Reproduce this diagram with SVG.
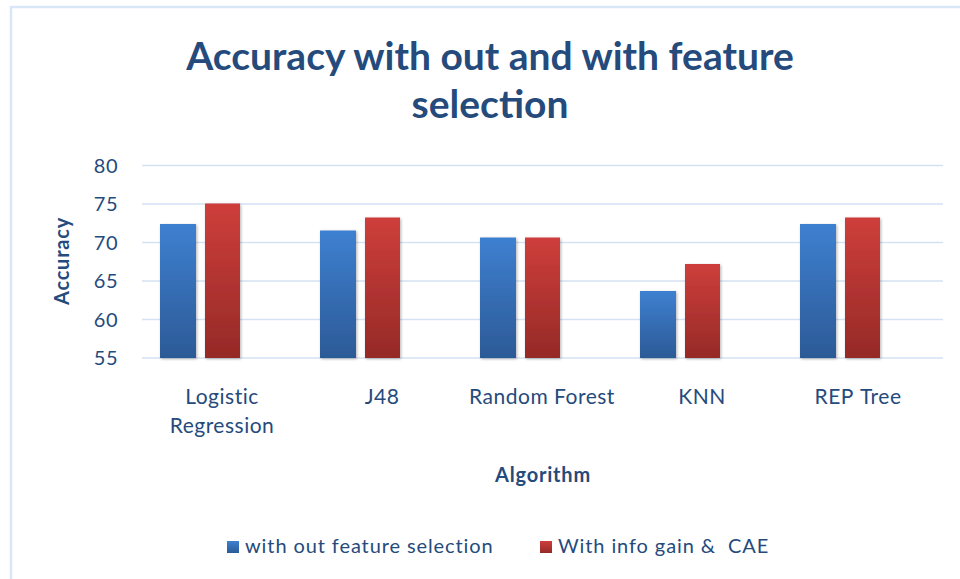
<svg xmlns="http://www.w3.org/2000/svg" width="960" height="579" viewBox="0 0 960 579">
<defs>
<linearGradient id="gb" x1="0" y1="0" x2="0" y2="1"><stop offset="0" stop-color="#3e80d0"/><stop offset="1" stop-color="#2c5a97"/></linearGradient>
<linearGradient id="gr" x1="0" y1="0" x2="0" y2="1"><stop offset="0" stop-color="#ce3e3b"/><stop offset="1" stop-color="#952a27"/></linearGradient>
<filter id="sh" x="-20%" y="-5%" width="140%" height="110%"><feGaussianBlur in="SourceAlpha" stdDeviation="1.5"/><feOffset dx="1" dy="1"/><feComponentTransfer><feFuncA type="linear" slope="0.3"/></feComponentTransfer><feMerge><feMergeNode/><feMergeNode in="SourceGraphic"/></feMerge></filter>
<style>
text{font-family:Lato,"Open Sans","Liberation Sans",sans-serif;fill:#254a7c}
.t{font-size:39px;font-weight:bold;text-anchor:middle}
.y{font-size:20px;text-anchor:end;letter-spacing:0.5px}
.c{font-size:21px;text-anchor:middle;letter-spacing:0.5px}
.ax{font-size:20px;font-weight:bold;text-anchor:middle;letter-spacing:0.8px}
.lg{font-size:20px;letter-spacing:0.9px}
.g{stroke:#d5e2f3;stroke-width:1.5}
.b{fill:url(#gb);filter:url(#sh)}
.r{fill:url(#gr);filter:url(#sh)}
</style>
</defs>
<rect width="960" height="579" fill="#fff"/>
<path d="M11 579V7H960" fill="none" stroke="#d9e6f6" stroke-width="2.5"/>
<g id="title"><text class="t" x="490" y="70">Accuracy with out and with feature</text><text class="t" x="490" y="118">selection</text></g>
<g id="grid">
<line class="g" x1="142" y1="165.5" x2="943" y2="165.5"/>
<line class="g" x1="142" y1="204" x2="943" y2="204"/>
<line class="g" x1="142" y1="242.5" x2="943" y2="242.5"/>
<line class="g" x1="142" y1="281" x2="943" y2="281"/>
<line class="g" x1="142" y1="319.5" x2="943" y2="319.5"/>
<line class="g" x1="142" y1="358" x2="943" y2="358"/>
</g>
<g id="yaxis">
<text class="y" x="118" y="173">80</text>
<text class="y" x="118" y="211">75</text>
<text class="y" x="118" y="250">70</text>
<text class="y" x="118" y="288">65</text>
<text class="y" x="118" y="327">60</text>
<text class="y" x="118" y="365">55</text>
<text class="ax" transform="translate(69 261) rotate(-90)">Accuracy</text>
</g>
<g id="bars">
<rect class="b" x="160" y="224" width="36" height="134"/>
<rect class="r" x="205" y="203.5" width="35" height="154.5"/>
<rect class="b" x="320" y="230.5" width="36" height="127.5"/>
<rect class="r" x="365" y="217.5" width="35" height="140.5"/>
<rect class="b" x="480" y="237.5" width="36" height="120.5"/>
<rect class="r" x="525" y="237.5" width="35" height="120.5"/>
<rect class="b" x="640" y="291" width="36" height="67"/>
<rect class="r" x="685" y="264" width="35" height="94"/>
<rect class="b" x="800" y="224" width="36" height="134"/>
<rect class="r" x="845" y="217.5" width="35" height="140.5"/>
</g>
<g id="xaxis">
<text class="c" x="222" y="404">Logistic</text>
<text class="c" x="222" y="433">Regression</text>
<text class="c" x="382" y="404">J48</text>
<text class="c" x="542" y="404">Random Forest</text>
<text class="c" x="702" y="404">KNN</text>
<text class="c" x="858" y="404" word-spacing="1.5">REP Tree</text>
<text class="ax" x="543" y="482">Algorithm</text>
</g>
<g id="legend">
<rect x="227" y="541" width="12" height="12" fill="url(#gb)"/>
<text class="lg" x="245" y="553">with out feature selection</text>
<rect x="540" y="541" width="12" height="12" fill="url(#gr)"/>
<text class="lg" x="558" y="553" xml:space="preserve">With info gain &amp;  CAE</text>
</g>
</svg>
